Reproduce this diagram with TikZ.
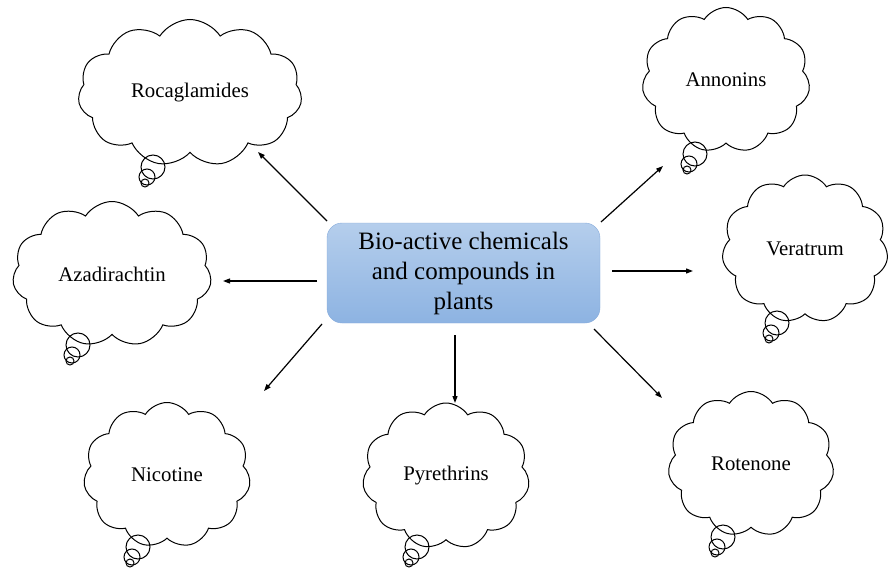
\documentclass[tikz,border=0pt]{standalone}
\usepackage{fontspec}
\setmainfont{Liberation Serif}
\usetikzlibrary{shapes.symbols,arrows.meta,calc}
\definecolor{boxtop}{HTML}{B5CEEC}
\definecolor{boxbot}{HTML}{8DB3E2}
\definecolor{boxedge}{HTML}{86ABDB}

\begin{document}
\begin{tikzpicture}[x=1pt,y=-1pt,
  bubble/.style={cloud,cloud puffs=11,cloud puff arc=115,cloud ignores aspect,draw,line width=1pt,inner sep=0pt,font=\fontsize{20.8}{25}\selectfont},
  topic/.style={rectangle,rounded corners=15pt,draw=boxedge,top color=boxtop,bottom color=boxbot,minimum width=273pt,minimum height=100pt,align=center,font=\fontsize{25}{30}\selectfont},
  link/.style={-{Triangle[length=7pt,width=5pt]},line width=1.2pt}]

\def\tail#1{%
  \draw[line width=1pt] (#1) circle (12pt);
  \draw[line width=1pt] ($(#1)+(-6,10)$) circle (8pt);
  \draw[line width=1pt] ($(#1)+(-8,16)$) circle (4pt);}

\useasboundingbox (0,0) rectangle (891,572);

\node[topic] (box) at (463.5,273) {Bio-active chemicals\\and compounds in\\plants};

\node[bubble,minimum width=224pt,minimum height=147pt] (roc) at (190,93) {Rocaglamides};
\node[bubble,minimum width=199pt,minimum height=145pt] (aza) at (112,274) {Azadirachtin};
\node[bubble,minimum width=167pt,minimum height=145pt] (nic) at (167,475) {Nicotine};
\node[bubble,minimum width=167pt,minimum height=146pt] (pyr) at (446,476) {Pyrethrins};
\node[bubble,minimum width=166pt,minimum height=145pt] (rot) at (751,464) {Rotenone};
\node[bubble,minimum width=168pt,minimum height=145pt] (ann) at (726,80) {Annonins};
\node[bubble,minimum width=166pt,minimum height=148pt] (ver) at (805,249) {Veratrum};

\coordinate (roc-t) at (153,167);
\coordinate (aza-t) at (78,345);
\coordinate (nic-t) at (138,547);
\coordinate (pyr-t) at (417,547);
\coordinate (rot-t) at (723,537);
\coordinate (ann-t) at (695,154);
\coordinate (ver-t) at (777,323);

\tail{roc-t}
\tail{aza-t}
\tail{nic-t}
\tail{pyr-t}
\tail{rot-t}
\tail{ann-t}
\tail{ver-t}

\coordinate (roc-a) at (327,221);
\coordinate (roc-b) at (258,152);
\coordinate (aza-a) at (317,281);
\coordinate (aza-b) at (223,281);
\coordinate (nic-a) at (322,324);
\coordinate (nic-b) at (264,391);
\coordinate (pyr-a) at (455,335);
\coordinate (pyr-b) at (455,403);
\coordinate (rot-a) at (594,329);
\coordinate (rot-b) at (662,398);
\coordinate (ann-a) at (601,222);
\coordinate (ann-b) at (663,166);
\coordinate (ver-a) at (612,271);
\coordinate (ver-b) at (693,271);

\draw[link] (roc-a) -- (roc-b);
\draw[link] (aza-a) -- (aza-b);
\draw[link] (nic-a) -- (nic-b);
\draw[link] (pyr-a) -- (pyr-b);
\draw[link] (rot-a) -- (rot-b);
\draw[link] (ann-a) -- (ann-b);
\draw[link] (ver-a) -- (ver-b);
\end{tikzpicture}
\end{document}
